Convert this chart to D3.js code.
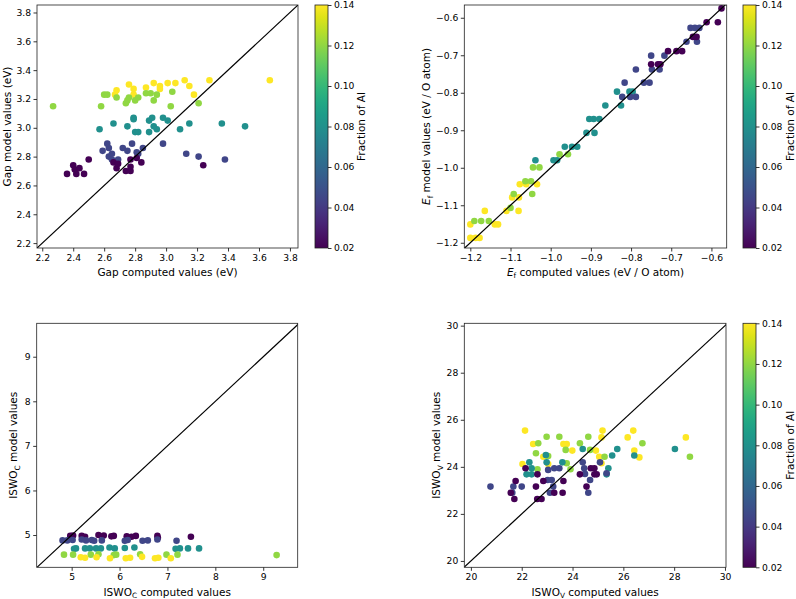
<!DOCTYPE html>
<html><head><meta charset="utf-8">
<script src="https://cdn.jsdelivr.net/npm/d3@7"></script>
<style>body{margin:0;background:#fff}svg{display:block;font-family:"DejaVu Sans",sans-serif}</style>
</head><body>
<svg id="c" width="796" height="599"></svg>
<script>
// ---- DATA: [computed, model, fraction of Al] ----
const gapPoints = [
 [3.67,3.33,0.14],[3.28,3.33,0.14],[3.12,3.33,0.14],[3.15,3.29,0.14],[3.06,3.31,0.14],[3.01,3.31,0.14],[2.92,3.31,0.14],[2.96,3.29,0.14],[2.96,3.27,0.14],[2.87,3.28,0.14],[2.76,3.30,0.14],[2.79,3.27,0.14],[2.68,3.26,0.14],[2.67,3.23,0.14],[2.79,3.23,0.14],[3.18,3.23,0.14],
 [2.27,3.15,0.12],[2.58,3.15,0.12],[2.60,3.23,0.12],[2.62,3.23,0.12],[2.68,3.21,0.12],[2.74,3.17,0.12],[2.75,3.19,0.12],[2.76,3.21,0.12],[2.80,3.19,0.12],[2.82,3.21,0.12],[2.87,3.24,0.12],[2.90,3.24,0.12],[2.92,3.19,0.12],[2.94,3.23,0.12],[3.04,3.25,0.12],[3.03,3.15,0.12],[3.21,3.17,0.12],
 [2.57,2.99,0.08],[2.66,3.03,0.08],[2.75,3.01,0.08],[2.79,3.06,0.08],[2.79,3.07,0.08],[2.80,2.97,0.08],[2.82,2.97,0.08],[2.89,2.97,0.08],[2.89,3.05,0.08],[2.91,3.07,0.08],[2.92,3.01,0.08],[2.94,2.99,0.08],[2.98,3.07,0.08],[3.01,3.05,0.08],[3.09,2.99,0.08],[3.15,3.03,0.08],[3.36,3.03,0.08],[3.51,3.01,0.08],
 [2.59,2.84,0.045],[2.62,2.89,0.045],[2.63,2.86,0.045],[2.63,2.80,0.045],[2.65,2.82,0.045],[2.65,2.78,0.045],[2.69,2.78,0.045],[2.72,2.86,0.045],[2.75,2.84,0.045],[2.78,2.89,0.045],[2.81,2.83,0.045],[2.82,2.82,0.045],[2.85,2.86,0.045],[2.98,2.89,0.045],[3.13,2.82,0.045],[3.21,2.80,0.045],[3.38,2.78,0.045],
 [2.36,2.68,0.02],[2.40,2.74,0.02],[2.41,2.71,0.02],[2.42,2.68,0.02],[2.44,2.72,0.02],[2.47,2.68,0.02],[2.50,2.78,0.02],[2.66,2.76,0.02],[2.68,2.72,0.02],[2.69,2.75,0.02],[2.74,2.70,0.02],[2.77,2.78,0.02],[2.77,2.70,0.02],[2.77,2.73,0.02],[2.81,2.79,0.02],[2.84,2.76,0.02],[3.24,2.74,0.02]
];
const efPoints = [
 [-1.200,-1.151,0.14],[-1.200,-1.187,0.14],[-1.187,-1.187,0.14],[-1.177,-1.187,0.14],[-1.164,-1.115,0.14],[-1.139,-1.151,0.14],[-1.131,-1.151,0.14],[-1.110,-1.115,0.14],[-1.096,-1.079,0.14],[-1.080,-1.115,0.14],[-1.077,-1.044,0.14],[-1.061,-1.044,0.14],[-1.034,-1.044,0.14],[-1.079,-1.079,0.14],
 [-1.190,-1.142,0.12],[-1.173,-1.142,0.12],[-1.154,-1.142,0.12],[-1.100,-1.107,0.12],[-1.092,-1.070,0.12],[-1.063,-1.036,0.12],[-1.049,-1.036,0.12],[-1.046,-1.070,0.12],[-1.044,-0.999,0.12],[-1.028,-0.999,0.12],[-0.978,-0.964,0.12],[-0.957,-0.964,0.12],
 [-1.038,-0.980,0.08],[-0.993,-0.980,0.08],[-0.984,-0.980,0.08],[-0.965,-0.944,0.08],[-0.947,-0.944,0.08],[-0.934,-0.944,0.08],[-0.911,-0.907,0.08],[-0.891,-0.907,0.08],[-0.904,-0.870,0.08],[-0.893,-0.870,0.08],[-0.879,-0.870,0.08],[-0.864,-0.834,0.08],[-0.835,-0.797,0.08],[-0.825,-0.834,0.08],[-0.804,-0.797,0.08],[-0.796,-0.797,0.08],
 [-0.822,-0.811,0.045],[-0.802,-0.811,0.045],[-0.788,-0.811,0.045],[-0.816,-0.773,0.045],[-0.788,-0.738,0.045],[-0.768,-0.773,0.045],[-0.754,-0.773,0.045],[-0.750,-0.701,0.045],[-0.748,-0.738,0.045],[-0.729,-0.738,0.045],[-0.717,-0.701,0.045],[-0.662,-0.664,0.045],[-0.652,-0.627,0.045],[-0.641,-0.627,0.045],[-0.630,-0.627,0.045],[-0.636,-0.664,0.045],
 [-0.750,-0.724,0.02],[-0.733,-0.724,0.02],[-0.727,-0.724,0.02],[-0.708,-0.689,0.02],[-0.687,-0.689,0.02],[-0.673,-0.689,0.02],[-0.646,-0.651,0.02],[-0.637,-0.651,0.02],[-0.612,-0.612,0.02],[-0.584,-0.612,0.02],[-0.575,-0.575,0.02]
];
const iswoCPoints = [
 [4.97,4.98,0.02],[5.03,4.99,0.02],[5.21,4.98,0.02],[5.28,4.96,0.02],[5.56,5.00,0.02],[5.67,4.99,0.02],[5.83,4.97,0.02],[6.15,4.97,0.02],[6.25,4.96,0.02],[6.34,4.98,0.02],[6.79,4.98,0.02],[7.49,4.96,0.02],[5.88,4.98,0.02],[6.80,4.94,0.02],
 [4.81,4.88,0.045],[4.91,4.88,0.045],[5.02,4.89,0.045],[5.21,4.90,0.045],[5.30,4.88,0.045],[5.42,4.89,0.045],[5.47,4.87,0.045],[5.63,4.88,0.045],[6.11,4.87,0.045],[6.17,4.89,0.045],[6.48,4.87,0.045],[6.59,4.88,0.045],[6.79,4.90,0.045],[7.19,4.87,0.045],
 [5.09,4.70,0.08],[5.28,4.70,0.08],[5.38,4.70,0.08],[5.51,4.70,0.08],[5.61,4.70,0.08],[5.79,4.72,0.08],[5.90,4.70,0.08],[6.11,4.71,0.08],[6.31,4.72,0.08],[7.17,4.69,0.08],[7.26,4.70,0.08],[7.43,4.70,0.08],[7.66,4.70,0.08],[5.05,4.69,0.08],
 [4.84,4.56,0.12],[5.03,4.56,0.12],[5.40,4.56,0.12],[5.56,4.57,0.12],[5.88,4.55,0.12],[5.93,4.56,0.12],[6.43,4.57,0.12],[6.98,4.56,0.12],[7.21,4.56,0.12],[9.28,4.55,0.12],
 [5.19,4.50,0.14],[5.28,4.49,0.14],[5.52,4.50,0.14],[5.80,4.48,0.14],[6.13,4.48,0.14],[6.22,4.49,0.14],[6.47,4.51,0.14],[6.74,4.48,0.14],[6.81,4.49,0.14],[7.07,4.48,0.14]
];
const iswoVPoints = [
 [22.13,25.54,0.14],[22.45,24.97,0.14],[22.03,24.12,0.14],[22.85,24.43,0.14],[23.04,24.12,0.14],[23.64,24.97,0.14],[23.77,24.97,0.14],[23.99,24.69,0.14],[25.18,25.54,0.14],[25.14,25.25,0.14],[25.05,24.43,0.14],[25.14,24.15,0.14],[24.92,24.69,0.14],[26.17,25.25,0.14],[26.39,25.54,0.14],[26.43,24.69,0.14],[26.63,24.40,0.14],[28.46,25.25,0.14],
 [22.98,25.28,0.12],[23.48,25.28,0.12],[24.62,25.28,0.12],[22.65,25.00,0.12],[24.29,25.00,0.12],[22.56,24.58,0.12],[23.73,24.72,0.12],[23.04,24.46,0.12],[22.62,23.90,0.12],[23.77,24.15,0.12],[23.92,23.90,0.12],[24.69,24.72,0.12],[25.26,24.43,0.12],[26.75,25.00,0.12],[28.62,24.43,0.12],
 [22.95,24.50,0.08],[22.98,24.19,0.08],[22.30,24.19,0.08],[22.19,23.68,0.08],[22.39,23.94,0.08],[22.39,23.68,0.08],[23.60,24.19,0.08],[24.40,24.76,0.08],[25.41,23.94,0.08],[25.34,23.68,0.08],[25.56,24.48,0.08],[25.76,24.76,0.08],[26.43,24.48,0.08],[28.03,24.76,0.08],
 [20.77,23.16,0.045],[21.67,23.16,0.045],[21.63,22.90,0.045],[22.00,23.16,0.045],[23.04,23.87,0.045],[23.28,23.94,0.045],[23.48,23.94,0.045],[23.02,23.44,0.045],[23.18,23.44,0.045],[23.24,23.16,0.045],[23.11,22.90,0.045],[24.40,24.19,0.045],[24.46,23.94,0.045],[24.49,23.70,0.045],[24.69,23.44,0.045],[24.62,22.90,0.045],[25.08,24.19,0.045],[25.34,23.73,0.045],
 [21.57,22.90,0.02],[21.76,23.40,0.02],[21.71,22.63,0.02],[22.15,23.94,0.02],[22.62,23.68,0.02],[22.56,23.16,0.02],[22.61,22.63,0.02],[22.78,22.63,0.02],[22.85,23.40,0.02],[23.28,22.90,0.02],[23.64,23.40,0.02],[23.61,22.90,0.02],[24.29,23.68,0.02],[24.55,23.16,0.02],[24.72,23.94,0.02],[24.86,23.94,0.02],[24.86,23.68,0.02],[24.95,23.68,0.02]
];
const gapTicks = [2.2,2.4,2.6,2.8,3.0,3.2,3.4,3.6,3.8];
const efTicks = [-1.2,-1.1,-1.0,-0.9,-0.8,-0.7,-0.6];
const iswoCTicks = [5,6,7,8,9];
const iswoVTicks = [20,22,24,26,28,30];
const cbarTicks = [0.02,0.04,0.06,0.08,0.10,0.12,0.14];
const cbarRange = [0.02,0.14];

// ---- layout ----
const svg = d3.select("#c");
const color = d3.scaleSequential(d3.interpolateViridis).domain(cbarRange);

const panels = [
 {pts:gapPoints, ticks:gapTicks, fmt:d3.format(".1f"), box:[37,298,5,248], xd:[2.166,3.852], yd:[2.166,3.852],
  xlab:[{t:"Gap computed values (eV)"}], ylab:[{t:"Gap model values (eV)"}], xlabY:275.5, ylabX:10.5, cbar:[315,328], cbLabX:365},
 {pts:efPoints, ticks:efTicks, fmt:d3.format(".1f"), box:[464.3,726.7,5,248], xd:[-1.215,-0.562], yd:[-1.214,-0.566],
  xlab:[{t:"E",it:1},{t:"f",sub:1},{t:" computed values (eV / O atom)"}], ylab:[{t:"E",it:1},{t:"f",sub:1},{t:" model values (eV / O atom)"}], xlabY:275.5, ylabX:430, cbar:[743,756], cbLabX:794},
 {pts:iswoCPoints, ticks:iswoCTicks, fmt:d3.format("d"), box:[36.7,297.7,323.3,567.3], xd:[4.27,9.72], yd:[4.276,9.75],
  xlab:[{t:"ISWO"},{t:"C",sub:1},{t:" computed values"}], ylab:[{t:"ISWO"},{t:"C",sub:1},{t:" model values"}], xlabY:595.5, ylabX:17, cbar:null},
 {pts:iswoVPoints, ticks:iswoVTicks, fmt:d3.format("d"), box:[464.3,726,323.3,567.3], xd:[19.74,30.04], yd:[19.73,30.1],
  xlab:[{t:"ISWO"},{t:"V",sub:1},{t:" computed values"}], ylab:[{t:"ISWO"},{t:"V",sub:1},{t:" model values"}], xlabY:595.5, ylabX:440, cbar:[743,756], cbLabX:794}
];

// gradient
const grad = svg.append("defs").append("linearGradient").attr("id","vir").attr("x1",0).attr("y1",1).attr("x2",0).attr("y2",0);
d3.range(0,1.0001,0.05).forEach(t=>grad.append("stop").attr("offset",t).attr("stop-color",d3.interpolateViridis(t)));

function richText(sel, segs, size){
  segs.forEach((s,i)=>{
    const ts = sel.append("tspan").text(s.t);
    if(s.it) ts.attr("font-style","italic");
    if(s.sub){ ts.attr("font-size",size*0.7).attr("dy",size*0.25); }
    else if(i>0 && segs[i-1].sub){ ts.attr("dy",-size*0.25); }
  });
}

const tickFont = 9.2, labFont = 10.5;

panels.forEach((p,pi)=>{
  const [x0,x1,y0,y1] = p.box;
  const x = d3.scaleLinear().domain(p.xd).range([x0,x1]);
  const y = d3.scaleLinear().domain(p.yd).range([y1,y0]);
  const g = svg.append("g");
  const cid = "clip"+pi;
  g.append("clipPath").attr("id",cid).append("rect").attr("x",x0).attr("y",y0).attr("width",x1-x0).attr("height",y1-y0);

  g.append("g").attr("clip-path",`url(#${cid})`).selectAll("circle").data(p.pts).join("circle")
    .attr("cx",d=>x(d[0])).attr("cy",d=>y(d[1])).attr("r",3.3).attr("fill",d=>color(d[2]));

  const lo = Math.min(p.xd[0],p.yd[0]), hi = Math.max(p.xd[1],p.yd[1]);
  g.append("line").attr("clip-path",`url(#${cid})`)
    .attr("x1",x(lo)).attr("y1",y(lo)).attr("x2",x(hi)).attr("y2",y(hi))
    .attr("stroke","#000").attr("stroke-width",1.2);

  const xa = g.append("g").attr("transform",`translate(0,${y1})`).call(d3.axisBottom(x).tickValues(p.ticks).tickFormat(p.fmt).tickSize(3.5).tickPadding(2.5));
  const ya = g.append("g").attr("transform",`translate(${x0},0)`).call(d3.axisLeft(y).tickValues(p.ticks).tickFormat(p.fmt).tickSize(3.5).tickPadding(2.5));
  [xa,ya].forEach(a=>{
    a.select(".domain").remove();
    a.selectAll("text").attr("font-size",tickFont).attr("font-family","DejaVu Sans").attr("fill","#000");
    a.selectAll("line").attr("stroke","#000").attr("stroke-width",0.8);
  });
  g.append("rect").attr("x",x0).attr("y",y0).attr("width",x1-x0).attr("height",y1-y0)
    .attr("fill","none").attr("stroke","#222").attr("stroke-width",0.8);

  richText(g.append("text").attr("x",(x0+x1)/2).attr("y",p.xlabY).attr("text-anchor","middle").attr("font-size",labFont), p.xlab, labFont);
  richText(g.append("text").attr("transform",`translate(${p.ylabX},${(y0+y1)/2}) rotate(-90)`).attr("text-anchor","middle").attr("font-size",labFont), p.ylab, labFont);

  if(p.cbar){
    const [c0,c1] = p.cbar;
    g.append("rect").attr("x",c0).attr("y",y0).attr("width",c1-c0).attr("height",y1-y0).attr("fill","url(#vir)");
    const cs = d3.scaleLinear().domain(cbarRange).range([y1,y0]);
    const ca = g.append("g").attr("transform",`translate(${c1},0)`).call(d3.axisRight(cs).tickValues(cbarTicks).tickFormat(d3.format(".2f")).tickSize(3.5).tickPadding(2.5));
    ca.select(".domain").remove();
    ca.selectAll("text").attr("font-size",tickFont).attr("font-family","DejaVu Sans").attr("fill","#000");
    ca.selectAll("line").attr("stroke","#000").attr("stroke-width",0.8);
    g.append("rect").attr("x",c0).attr("y",y0).attr("width",c1-c0).attr("height",y1-y0).attr("fill","none").attr("stroke","#222").attr("stroke-width",0.8);
    g.append("text").attr("transform",`translate(${p.cbLabX},${(y0+y1)/2}) rotate(-90)`).attr("text-anchor","middle").attr("font-size",labFont).text("Fraction of Al");
  }
});
</script>
</body></html>
